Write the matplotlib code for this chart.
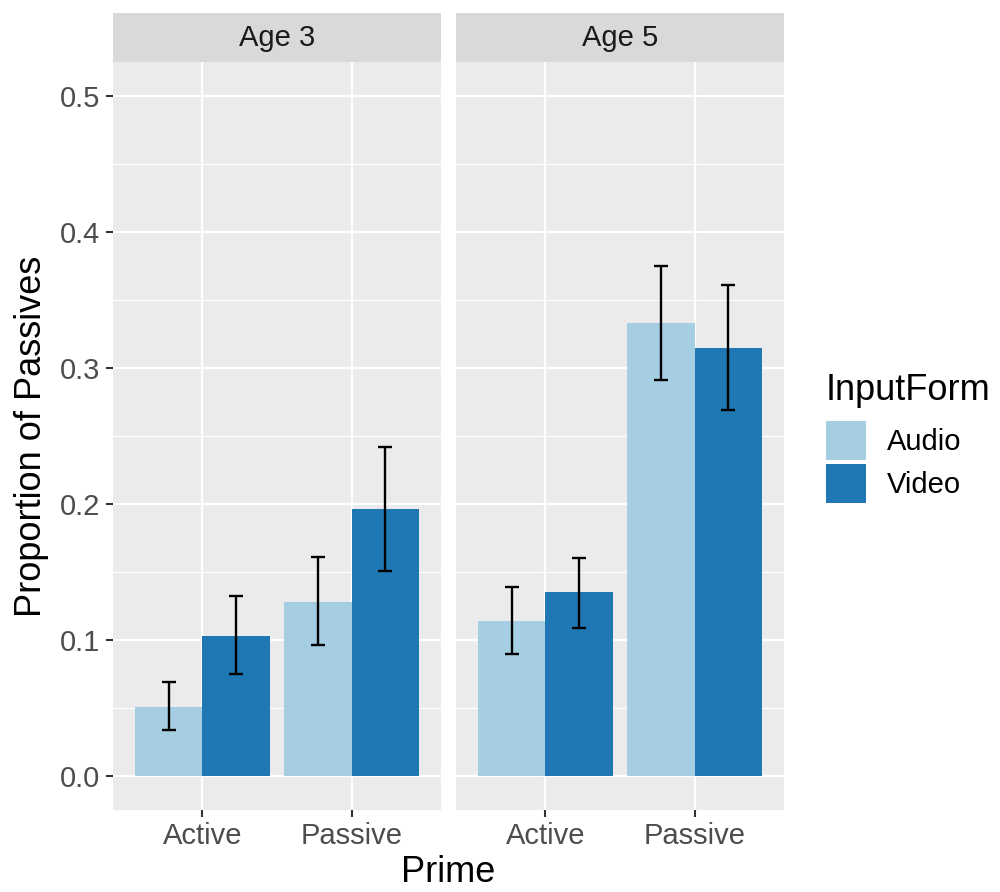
import numpy as np
import matplotlib
matplotlib.use('Agg')
import matplotlib.pyplot as plt
from matplotlib.patches import Patch

plt.rcParams['font.family'] = ['Liberation Sans', 'DejaVu Sans']

# === DATA ===
ages = ['Age 3', 'Age 5']
primes = ['Active', 'Passive']
forms = ['Audio', 'Video']
colors = {'Audio': '#A6CEE3', 'Video': '#1F78B4'}

# mean proportion of passives, [age][prime]
audio_mean = [[0.051, 0.128], [0.114, 0.333]]
video_mean = [[0.103, 0.196], [0.135, 0.315]]
# error bar bounds
audio_lo = [[0.034, 0.096], [0.090, 0.291]]
audio_hi = [[0.069, 0.161], [0.139, 0.375]]
video_lo = [[0.075, 0.151], [0.109, 0.269]]
video_hi = [[0.132, 0.242], [0.160, 0.361]]

means = {'Audio': audio_mean, 'Video': video_mean}
lows = {'Audio': audio_lo, 'Video': video_lo}
highs = {'Audio': audio_hi, 'Video': video_hi}

# === STYLE (ggplot2 grey theme) ===
W, H = 1000, 892
fig = plt.figure(figsize=(W / 100, H / 100), dpi=100)
tick_fs = 21
title_fs = 26

panel_left = [113, 456]
panel_w = 328
panel_top, panel_bot = 62, 810
strip_top = 13

x = np.arange(len(primes)) + 1
bw = 0.45

for i, age in enumerate(ages):
    l = panel_left[i] / W
    b = 1 - panel_bot / H
    ax = fig.add_axes([l, b, panel_w / W, (panel_bot - panel_top) / H])
    ax.set_facecolor('#EBEBEB')
    for s in ax.spines.values():
        s.set_visible(False)
    ax.set_xlim(0.4, 2.6)
    ax.set_ylim(-0.025, 0.525)
    ax.set_yticks([0.0, 0.1, 0.2, 0.3, 0.4, 0.5])
    ax.set_yticks([0.05, 0.15, 0.25, 0.35, 0.45], minor=True)
    ax.set_xticks(x)
    ax.grid(True, which='major', color='white', linewidth=1.6)
    ax.grid(True, which='minor', axis='y', color='white', linewidth=0.8)
    ax.tick_params(which='minor', length=0)
    ax.set_axisbelow(True)
    ax.tick_params(axis='both', which='major', length=5, width=1.5,
                   color='#333333', labelcolor='#4D4D4D',
                   labelsize=tick_fs, pad=4)
    ax.set_xticklabels(primes)
    if i == 0:
        ax.set_yticklabels(['0.0', '0.1', '0.2', '0.3', '0.4', '0.5'])
    else:
        ax.tick_params(axis='y', which='both', length=0, labelleft=False)

    for j, form in enumerate(forms):
        xpos = x + (j - 0.5) * bw
        m = np.array(means[form][i])
        lo = np.array(lows[form][i])
        hi = np.array(highs[form][i])
        ax.bar(xpos, m, width=bw, color=colors[form], zorder=2)
        ax.errorbar(xpos, m, yerr=[m - lo, hi - m], fmt='none',
                    ecolor='black', elinewidth=1.7, capsize=5,
                    capthick=1.7, zorder=3)

    # strip
    sax = fig.add_axes([l, 1 - panel_top / H, panel_w / W,
                        (panel_top - strip_top) / H])
    sax.set_facecolor('#D9D9D9')
    sax.set_xticks([])
    sax.set_yticks([])
    for s in sax.spines.values():
        s.set_visible(False)
    sax.text(0.5, 0.5, age, ha='center', va='center', fontsize=tick_fs,
             color='#1A1A1A', transform=sax.transAxes)

fig.text(32 / W, 1 - ((panel_top + panel_bot) / 2) / H,
         'Proportion of Passives', rotation=90, ha='center', va='center',
         fontsize=title_fs)
fig.text((113 + 783) / 2 / W, 1 - 873 / H, 'Prime', ha='center',
         va='center', fontsize=title_fs)

# legend: title placed separately so the gap above the keys matches
fig.text(826 / W, 1 - 400 / H, 'InputForm', ha='left', va='baseline',
         fontsize=title_fs)
handles = [Patch(facecolor=colors[f], edgecolor='none') for f in forms]
fig.legend(handles, forms, loc='upper left',
           bbox_to_anchor=(826 / W, 1 - 421 / H), frameon=False,
           fontsize=tick_fs, handlelength=1.37, handleheight=1.68,
           labelspacing=0.14, handletextpad=0.72, borderpad=0,
           borderaxespad=0)

fig.savefig('out.png', dpi=100)
